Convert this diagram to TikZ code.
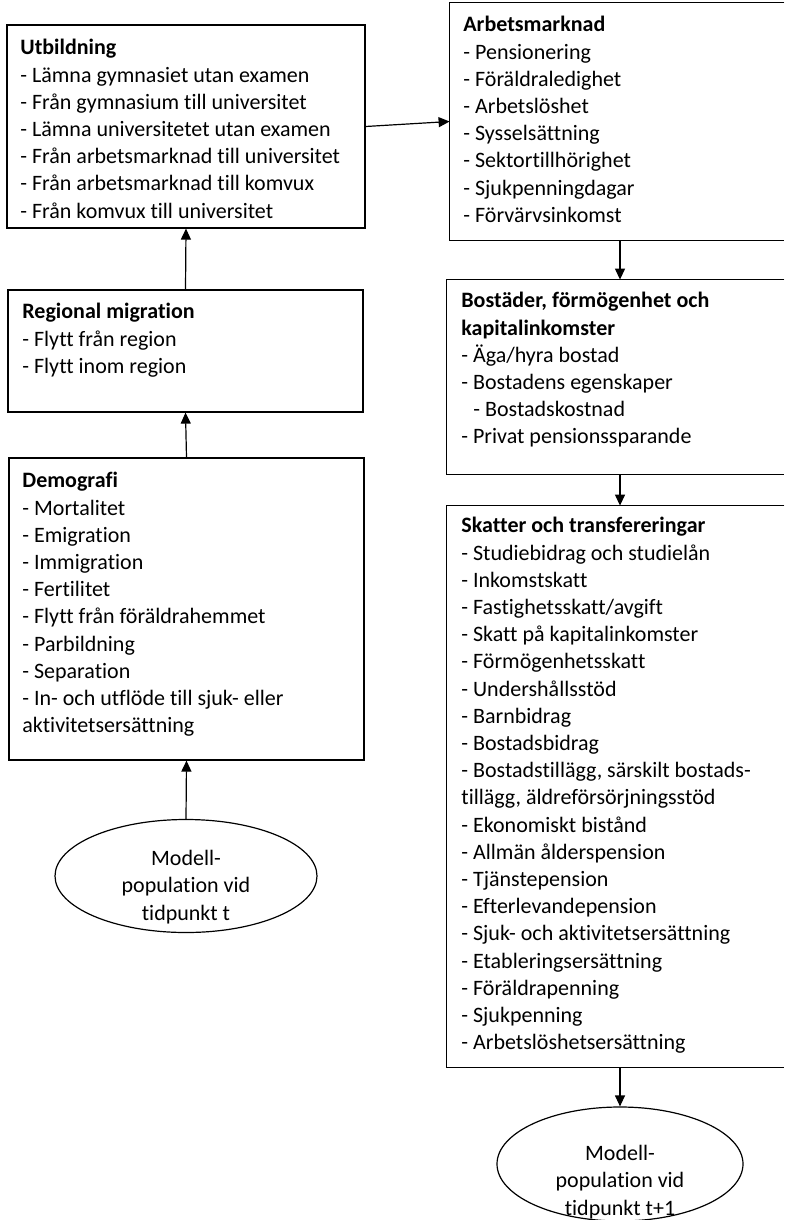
\documentclass[tikz,border=0pt]{standalone}
\usepackage{fontspec}
\setmainfont{Carlito}[Ligatures=NoCommon]
\usetikzlibrary{arrows.meta,fit,shapes.geometric}

\tikzset{
  box/.style={draw=black, line width=0.6pt, inner sep=0pt},
  openbox/.style={inner sep=0pt},
  edge/.style={line width=0.6pt},
  txt/.style={anchor=north west, align=left, inner sep=0pt, font=\fontsize{11pt}{13.6pt}\selectfont},
  pop/.style={ellipse, draw=black, line width=0.6pt, inner sep=0pt},
  poptxt/.style={align=center, inner sep=0pt, font=\fontsize{11pt}{13.6pt}\selectfont},
  arr/.style={line width=0.6pt, -{Triangle[length=5.5pt,width=5pt]}}
}

\begin{document}
\begin{tikzpicture}[x=0.5pt,y=-0.5pt]
\useasboundingbox (0,0) rectangle (784,1220);
\fill[white] (0,0) rectangle (784,1220);

% left column
\node[box, fit={(7,25) (365,228)}] (utb) {};
\node[txt] (utbtxt) at (20,39) {\textbf{Utbildning}\\
- Lämna gymnasiet utan examen\\
- Från gymnasium till universitet\\
- Lämna universitetet utan examen\\
- Från arbetsmarknad till universitet\\
- Från arbetsmarknad till komvux\\
- Från komvux till universitet};

\node[box, fit={(8,290) (363,412)}] (reg) {};
\node[txt] (regtxt) at (22,303) {\textbf{Regional migration}\\
- Flytt från region\\
- Flytt inom region};

\node[box, fit={(9,458) (364,760)}] (dem) {};
\node[txt] (demtxt) at (22,472) {\textbf{Demografi}\\
- Mortalitet\\
- Emigration\\
- Immigration\\
- Fertilitet\\
- Flytt från föräldrahemmet\\
- Parbildning\\
- Separation\\
- In- och utflöde till sjuk- eller\\
aktivitetsersättning};

\node[pop, minimum width=131pt, minimum height=56.5pt] (pop) at (186,876) {};
\node[poptxt] (poptext) at (186,887) {Modell-\\population vid\\tidpunkt t};

% right column, its right side is off the page
\node[openbox, fit={(450,3) (784,240)}] (arb) {};
\draw[edge] (arb.north east) -- (arb.north west) -- (arb.south west) -- (arb.south east);
\node[txt] (arbtxt) at (463,16) {\textbf{Arbetsmarknad}\\
- Pensionering\\
- Föräldraledighet\\
- Arbetslöshet\\
- Sysselsättning\\
- Sektortillhörighet\\
- Sjukpenningdagar\\
- Förvärvsinkomst};

\node[openbox, fit={(447,280) (784,474)}] (bost) {};
\draw[edge] (bost.north east) -- (bost.north west) -- (bost.south west) -- (bost.south east);
\node[txt] (bosttxt) at (461,292) {\textbf{Bostäder, förmögenhet och}\\
\textbf{kapitalinkomster}\\
- Äga/hyra bostad\\
- Bostadens egenskaper\\
\hspace*{6pt}- Bostadskostnad\\
- Privat pensionssparande};

\node[openbox, fit={(447,506) (784,1067)}] (skatt) {};
\draw[edge] (skatt.north east) -- (skatt.north west) -- (skatt.south west) -- (skatt.south east);
\node[txt] (skatttxt) at (461,517) {\textbf{Skatter och transfereringar}\\
- Studiebidrag och studielån\\
- Inkomstskatt\\
- Fastighetsskatt/avgift\\
- Skatt på kapitalinkomster\\
- Förmögenhetsskatt\\
- Undershållsstöd\\
- Barnbidrag\\
- Bostadsbidrag\\
- Bostadstillägg, särskilt bostads-\\
tillägg, äldreförsörjningsstöd\\
- Ekonomiskt bistånd\\
- Allmän ålderspension\\
- Tjänstepension\\
- Efterlevandepension\\
- Sjuk- och aktivitetsersättning\\
- Etableringsersättning\\
- Föräldrapenning\\
- Sjukpenning\\
- Arbetslöshetsersättning};

\node[pop, minimum width=123pt, minimum height=57pt] (popnext) at (620,1164) {};
\node[poptxt] (popnexttext) at (620,1182) {Modell-\\population vid\\tidpunkt t+1};

% arrows
\draw[arr] (pop.north) -- (dem.south);
\draw[arr] (dem.north) -- (reg.south);
\draw[arr] (reg.north) -- (utb.south);
\draw[arr] (utb.east) -- (arb.west);
\draw[arr] (arb.south -| popnext.north) -- (bost.north -| popnext.north);
\draw[arr] (bost.south -| popnext.north) -- (skatt.north -| popnext.north);
\draw[arr] (skatt.south -| popnext.north) -- (popnext.north);
\end{tikzpicture}
\end{document}
